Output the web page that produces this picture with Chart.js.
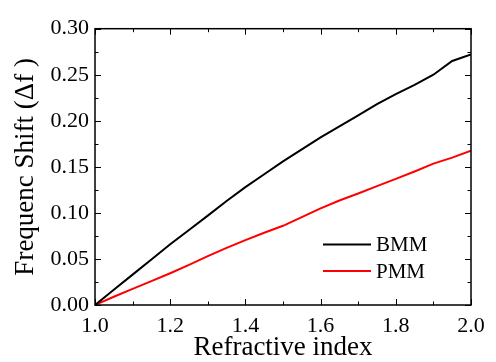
<!DOCTYPE html>
<html>
<head>
<meta charset="utf-8">
<script src="https://cdn.jsdelivr.net/npm/chart.js@4.4.0/dist/chart.umd.min.js"></script>
<style>
  html, body { margin: 0; padding: 0; background: #fff; }
  #wrap { width: 496px; height: 362px; }
</style>
</head>
<body>
<div id="wrap"><canvas id="myChart" width="496" height="362"></canvas></div>
<script>
// data
const refractiveIndex = [1.0, 1.05, 1.1, 1.15, 1.2, 1.25, 1.3, 1.35, 1.4, 1.45, 1.5,
                         1.55, 1.6, 1.65, 1.7, 1.75, 1.8, 1.85, 1.9, 1.95, 2.0];
const bmmShift = [0, 0.0165, 0.033, 0.0495, 0.066, 0.0815, 0.097, 0.113, 0.128, 0.142, 0.156,
                  0.169, 0.182, 0.194, 0.206, 0.218, 0.229, 0.239, 0.250, 0.265, 0.272];
const pmmShift = [0, 0.009, 0.0175, 0.026, 0.0345, 0.0435, 0.053, 0.062, 0.0705, 0.0785, 0.086,
                  0.0955, 0.105, 0.1135, 0.121, 0.129, 0.137, 0.145, 0.1535, 0.160, 0.1675];
const seriesNames = ["BMM", "PMM"];
const xTicks = [1.0, 1.2, 1.4, 1.6, 1.8, 2.0];
const yTicks = [0, 0.05, 0.10, 0.15, 0.20, 0.25, 0.30];

const FONT = "'Liberation Serif', 'Times New Roman', serif";

function toPoints(xs, ys) {
  return xs.map((x, i) => ({ x: x, y: ys[i] }));
}

// frame with inward ticks on all four sides
const framePlugin = {
  id: 'frame',
  afterDraw(chart) {
    const ctx = chart.ctx;
    const a = chart.chartArea;
    const xs = chart.scales.x, ys = chart.scales.y;
    ctx.save();
    ctx.strokeStyle = '#000';
    ctx.lineWidth = 1.5;
    ctx.strokeRect(a.left, a.top, a.right - a.left, a.bottom - a.top);
    ctx.lineWidth = 1;
    ctx.beginPath();
    for (let v = 1.0; v <= 2.0001; v += 0.1) {
      const major = Math.abs(Math.round(v * 10) % 2) === 0;
      const len = major ? 6 : 3.5;
      const px = Math.round(xs.getPixelForValue(v)) + 0.5;
      ctx.moveTo(px, a.bottom); ctx.lineTo(px, a.bottom - len);
      ctx.moveTo(px, a.top); ctx.lineTo(px, a.top + len);
    }
    for (let i = 0; i <= 12; i++) {
      const v = i * 0.025;
      const len = i % 2 === 0 ? 6 : 3.5;
      const py = Math.round(ys.getPixelForValue(v)) + 0.5;
      ctx.moveTo(a.left, py); ctx.lineTo(a.left + len, py);
      ctx.moveTo(a.right, py); ctx.lineTo(a.right - len, py);
    }
    ctx.stroke();

    // legend inside the plot
    ctx.font = "21px " + FONT;
    ctx.textBaseline = 'middle';
    ctx.textAlign = 'left';
    chart.data.datasets.forEach((ds, i) => {
      const y = a.bottom - 60.5 + i * 26.5;
      const x0 = a.right - 148;
      ctx.strokeStyle = ds.borderColor;
      ctx.lineWidth = 2;
      ctx.beginPath();
      ctx.moveTo(x0, y); ctx.lineTo(x0 + 48, y);
      ctx.stroke();
      ctx.fillStyle = '#000';
      ctx.fillText(ds.label, x0 + 53, y + 1);
    });
    ctx.restore();
  }
};

new Chart(document.getElementById('myChart').getContext('2d'), {
  type: 'line',
  data: {
    datasets: [
      {
        label: seriesNames[0],
        data: toPoints(refractiveIndex, bmmShift),
        borderColor: '#000000',
        borderWidth: 2,
        pointRadius: 0,
        fill: false,
        tension: 0
      },
      {
        label: seriesNames[1],
        data: toPoints(refractiveIndex, pmmShift),
        borderColor: '#ff0000',
        borderWidth: 2,
        pointRadius: 0,
        fill: false,
        tension: 0
      }
    ]
  },
  options: {
    responsive: false,
    animation: false,
    layout: { padding: { top: 28.7, right: 25, left: 0, bottom: 0 } },
    plugins: { legend: { display: false }, tooltip: { enabled: false } },
    scales: {
      x: {
        type: 'linear',
        min: 1.0,
        max: 2.0,
        afterBuildTicks: s => { s.ticks = xTicks.map(v => ({ value: v })); },
        afterFit: s => { s.height = 57; },
        grid: { display: false, drawTicks: false },
        border: { display: false },
        ticks: {
          padding: 8,
          color: '#000',
          font: { family: FONT, size: 22 },
          maxRotation: 0,
          callback: v => v.toFixed(1)
        },
        title: {
          display: true,
          text: 'Refractive index',
          color: '#000',
          font: { family: FONT, size: 27, lineHeight: 1 },
          padding: { top: 0, bottom: 1 }
        }
      },
      y: {
        type: 'linear',
        min: 0,
        max: 0.3,
        afterBuildTicks: s => { s.ticks = yTicks.map(v => ({ value: v })); },
        afterFit: s => { s.width = 95; },
        grid: { display: false, drawTicks: false },
        border: { display: false },
        ticks: {
          padding: 6,
          color: '#000',
          font: { family: FONT, size: 22 },
          callback: v => v.toFixed(2)
        },
        title: {
          display: true,
          text: 'Frequenc Shift (\u0394f )',
          color: '#000',
          font: { family: FONT, size: 27, lineHeight: 1 },
          padding: { top: 12.5, bottom: 0 }
        }
      }
    }
  },
  plugins: [framePlugin]
});
</script>
</body>
</html>
